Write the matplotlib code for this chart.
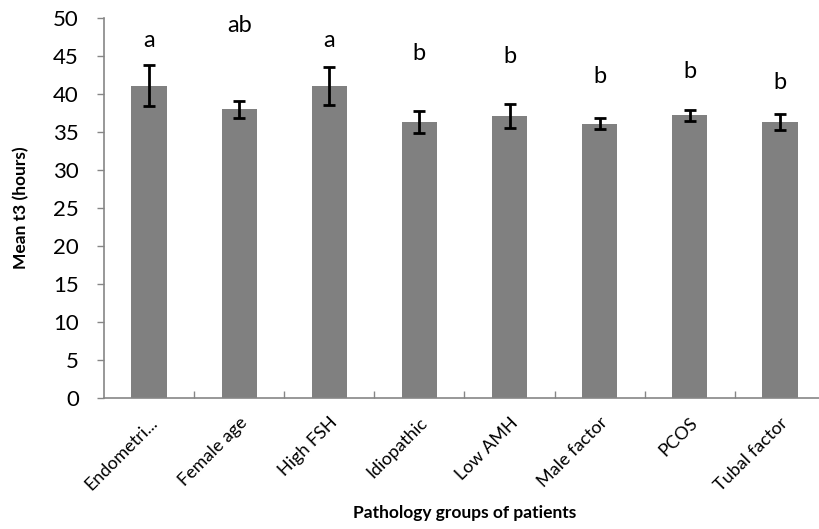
import matplotlib
matplotlib.use("Agg")
import matplotlib.pyplot as plt
import numpy as np

plt.rcParams['font.family'] = ['Lato', 'DejaVu Sans']

groups = ['Endometri...', 'Female age', 'High FSH', 'Idiopathic', 'Low AMH',
          'Male factor', 'PCOS', 'Tubal factor']
mean_t3 = [41.1, 38.0, 41.1, 36.3, 37.1, 36.1, 37.2, 36.3]
sem_t3 = [2.7, 1.1, 2.5, 1.45, 1.6, 0.7, 0.7, 1.05]
letters = ['a', 'ab', 'a', 'b', 'b', 'b', 'b', 'b']
letter_y = [46.2, 48.2, 46.2, 44.5, 44.1, 41.4, 42.1, 40.6]

fig = plt.figure(figsize=(8.2, 5.29), dpi=100)
ax = fig.add_axes([104 / 820, 131 / 529, 721 / 820, 380 / 529])

x = np.arange(len(groups))
ax.bar(x, mean_t3, width=0.39, color='#808080', zorder=2)
ax.errorbar(x, mean_t3, yerr=sem_t3, fmt='none', ecolor='black',
            elinewidth=2, capsize=4.5, capthick=2, zorder=3)

for xi, lab, ly in zip(x, letters, letter_y):
    ax.text(xi, ly, lab, ha='center', va='baseline', fontsize=17)

ax.set_xlim(-0.5, len(groups) - 0.5)
ax.set_ylim(0, 50)
ax.set_yticks(range(0, 51, 5))
ax.tick_params(axis='y', labelsize=16, length=5, width=1, color='#868686',
               direction='out', pad=13)

# category ticks sit between bars and point up into the plot
ax.set_xticks(x)
ax.set_xticklabels(groups, rotation=45, ha='right', rotation_mode='anchor',
                   fontsize=13)
ax.tick_params(axis='x', length=0, pad=12)
ax.set_xticks(np.arange(0.5, len(groups) - 0.5), minor=True)
ax.tick_params(axis='x', which='minor', length=5, width=1, color='#868686',
               direction='in')

for side in ['top', 'right']:
    ax.spines[side].set_visible(False)
for side in ['left', 'bottom']:
    ax.spines[side].set_color('#868686')
    ax.spines[side].set_linewidth(1.2)

ax.set_ylabel('Mean t3 (hours)', fontsize=12.5, fontweight='bold', labelpad=17)
ax.set_xlabel('Pathology groups of patients', fontsize=12.5, fontweight='bold',
              labelpad=8)

fig.savefig('out.png', dpi=100)
